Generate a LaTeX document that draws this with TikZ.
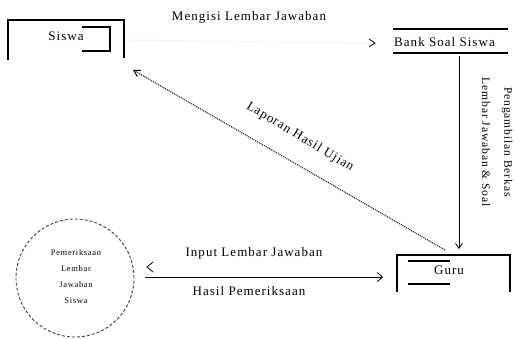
\documentclass[tikz,border=0pt]{standalone}
\usepackage{fontspec}
\setmainfont{Liberation Serif}[LetterSpace=8]
\usetikzlibrary{arrows.meta}
\begin{document}
\begin{tikzpicture}[x=1pt,y=-1pt,
  boxline/.style={line width=1.3pt,black},
  lbl/.style={font=\fontsize{13}{15}\selectfont,inner sep=1pt},
  vlbl/.style={font=\fontsize{11.5}{13}\selectfont,inner sep=1pt,rotate=-90},
  small/.style={font=\fontsize{8.5}{16}\selectfont,align=center,inner sep=0pt},
  flow/.style={line width=0.8pt,black},
  chev/.style={line width=0.8pt,black,line join=miter}]
\useasboundingbox[fill=white] (0,0) rectangle (516,338);

% Siswa entity
\node[lbl] (siswa) at (66,36) {Siswa};
\draw[boxline] (8,60) -- (8,20) -- (124,20) -- (124,58);
\draw[boxline] (82,27) -- (110,27) -- (110,51) -- (82,51);
\coordinate (siswaIn) at (133,70);
\coordinate (siswaOut) at (126,40);

% Bank Soal Siswa store
\node[lbl,anchor=west] (bank) at (393,42) {Bank Soal Siswa};
\draw[boxline] (393,29) -- (508,29);
\draw[boxline] (393,53) -- (508,53);
\coordinate (bankIn) at (376,43);
\coordinate (bankOut) at (459,56);

% Guru entity
\node[lbl] (guru) at (449,270) {Guru};
\draw[boxline] (397,292) -- (397,255) -- (510,255) -- (510,292);
\draw[boxline] (408,261) -- (450,261);
\draw[boxline] (408,284) -- (450,284);
\coordinate (guruTop) at (459,249);
\coordinate (guruDiag) at (445,250);
\coordinate (guruIn) at (383,277);

% Process
\node[circle,draw=black!75,dash pattern=on 3pt off 2pt,line width=0.9pt,minimum size=118pt,inner sep=0pt] (proc) at (75,278) {};
\node[small] (proctext) at (76,277) {Pemeriksaan\\Lembar\\Jawaban\\Siswa};
\coordinate (procOut) at (145,277);

% Mengisi Lembar Jawaban (Siswa -> Bank Soal)
\draw[black!6,line width=0.8pt] (siswaOut) -- (bankIn);
\draw[chev] (369,39) -- (375,43) -- (369,47);
\node[lbl] (lblMengisi) at (249,17) {Mengisi Lembar Jawaban};

% Bank Soal -> Guru
\draw[flow,-{Straight Barb[length=5pt,width=7pt]}] (bankOut) -- (guruTop);
\node[vlbl] (lblAmbil) at (507,142) {Pengambilan Berkas};
\node[vlbl] (lblLembar) at (486,142) {Lembar Jawaban \& Soal};

% Laporan Hasil Ujian (Guru -> Siswa)
\draw[line width=1pt,densely dotted,-{Straight Barb[length=6pt,width=7pt]}] (guruDiag) -- (siswaIn);
\node[lbl,rotate=-31] (lblLaporan) at (300,137) {Laporan Hasil Ujian};

% Process <-> Guru
\draw[flow,-{Straight Barb[length=5pt,width=9pt]}] (procOut) -- (guruIn);
\draw[chev] (153,262) -- (147,267) -- (153,272);
\node[lbl] (lblInput) at (254,253) {Input Lembar Jawaban};
\node[lbl] (lblHasil) at (249,291) {Hasil Pemeriksaan};
\end{tikzpicture}
\end{document}
